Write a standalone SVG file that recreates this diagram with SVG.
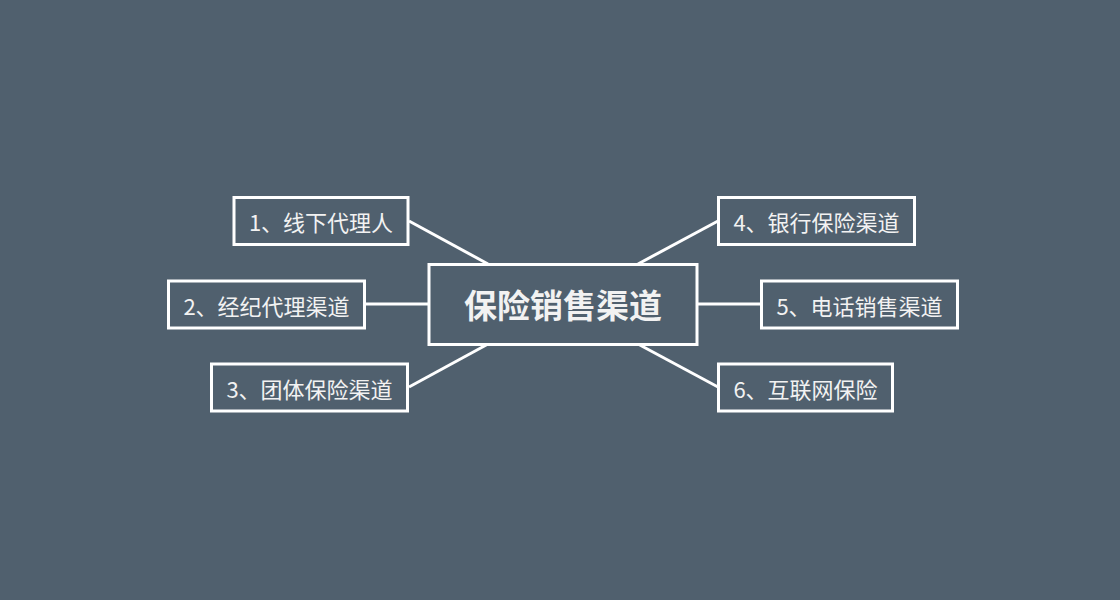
<svg xmlns="http://www.w3.org/2000/svg" width="1120" height="600" viewBox="0 0 1120 600">
<style>
.bg{fill:#50606e}
.box{fill:#50606e;stroke:#ffffff;stroke-width:3}
.t{fill:#f2f2f2;font-family:"Noto Sans CJK SC","Liberation Sans",sans-serif;font-size:22px;text-anchor:middle;dominant-baseline:central}
.c{font-size:33px;font-weight:bold}
.ln{stroke:#ffffff;stroke-width:3;fill:none}
</style>
<rect class="bg" x="0" y="0" width="1120" height="600"/>
<g id="connectors">
<line class="ln" x1="409" y1="221" x2="488" y2="264"/>
<line class="ln" x1="365" y1="304" x2="429" y2="304"/>
<line class="ln" x1="409" y1="387" x2="488" y2="344"/>
<line class="ln" x1="718" y1="221" x2="638" y2="264"/>
<line class="ln" x1="761" y1="304" x2="697" y2="304"/>
<line class="ln" x1="718" y1="387" x2="638" y2="344"/>
</g>
<g id="center">
<rect class="box" x="429" y="264.5" width="268" height="80"/>
<text class="t c" x="563" y="304">保险销售渠道</text>
</g>
<g id="n1">
<rect class="box" x="234" y="197.5" width="174" height="47"/>
<text class="t" x="321" y="221">1、线下代理人</text>
</g>
<g id="n2">
<rect class="box" x="168.5" y="281" width="196" height="47"/>
<text class="t" x="266.5" y="304.5">2、经纪代理渠道</text>
</g>
<g id="n3">
<rect class="box" x="211.5" y="364" width="196" height="47"/>
<text class="t" x="309.5" y="387.5">3、团体保险渠道</text>
</g>
<g id="n4">
<rect class="box" x="718.5" y="197.5" width="196" height="47"/>
<text class="t" x="816.5" y="221">4、银行保险渠道</text>
</g>
<g id="n5">
<rect class="box" x="761.5" y="281" width="196" height="47"/>
<text class="t" x="859.5" y="304.5">5、电话销售渠道</text>
</g>
<g id="n6">
<rect class="box" x="718.5" y="364" width="174" height="47"/>
<text class="t" x="805.5" y="387.5">6、互联网保险</text>
</g>
</svg>
